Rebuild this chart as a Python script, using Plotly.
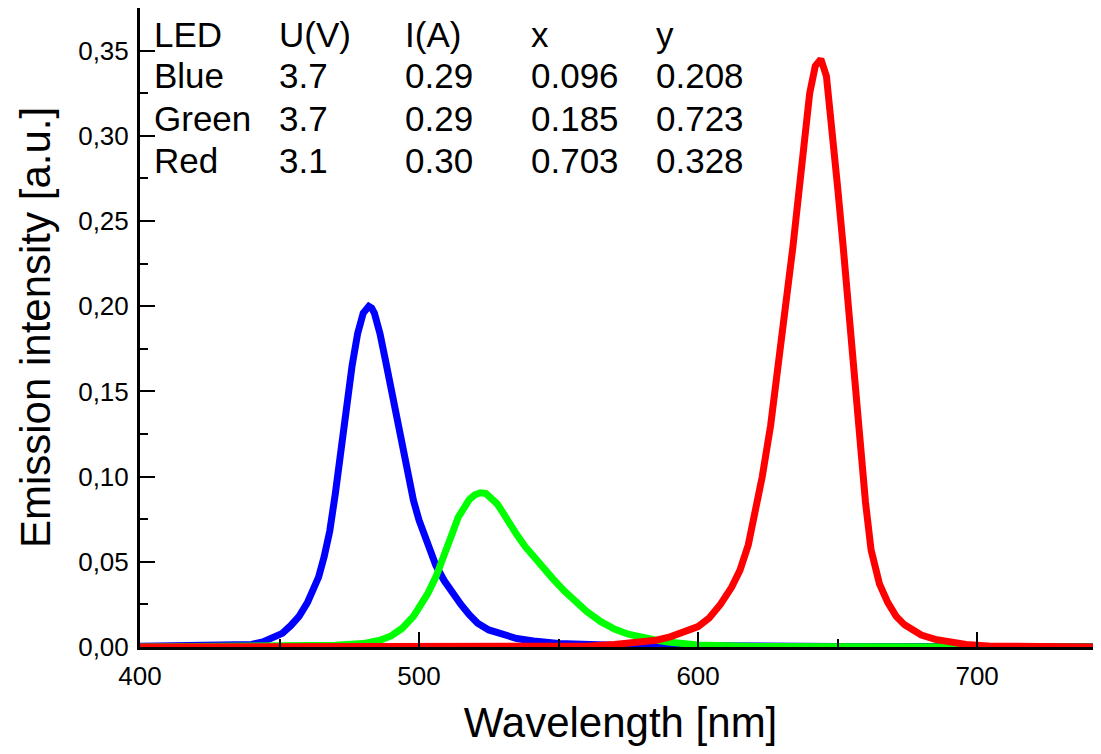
import plotly.graph_objects as go

# Blue LED spectrum
blue_wl = [400, 420, 435, 440, 444, 448, 451, 454, 457, 460, 462, 464, 466, 468, 470, 472, 474, 476, 478,
           480, 482, 483, 484, 486, 488, 490, 492, 494, 496, 498, 500, 503, 506, 509, 512, 515, 518, 521,
           525, 530, 535, 541, 550, 570, 600, 650, 700, 745]
blue_int = [0.0005, 0.0005, 0.001, 0.0015, 0.003, 0.0055, 0.008, 0.0125, 0.018, 0.026, 0.0325, 0.041,
            0.053, 0.068, 0.090, 0.116, 0.142, 0.165, 0.184, 0.196, 0.200, 0.199, 0.196, 0.184, 0.168,
            0.152, 0.136, 0.117, 0.099, 0.086, 0.0744, 0.060, 0.048, 0.039, 0.0316, 0.025, 0.019, 0.014,
            0.010, 0.007, 0.005, 0.0035, 0.002, 0.001, 0.0005, 0.0003, 0.0003, 0.0003]

# Green LED spectrum
green_wl = [400, 440, 460, 470, 480, 486, 490, 494, 498, 501, 503, 506, 508, 510, 512, 514, 516, 518, 520,
            522, 524, 526, 528, 530, 532, 535, 538, 541, 544, 548, 552, 556, 560, 565, 570, 575, 580, 585,
            590, 600, 620, 650, 700, 745]
green_int = [0.0, 0.0, 0.0003, 0.001, 0.002, 0.004, 0.0065, 0.011, 0.018, 0.025, 0.031, 0.041, 0.049, 0.057,
             0.067, 0.076, 0.082, 0.0865, 0.0893, 0.0905, 0.090, 0.0875, 0.084, 0.079, 0.0735, 0.066, 0.059,
             0.053, 0.047, 0.040, 0.033, 0.027, 0.021, 0.015, 0.0105, 0.0075, 0.0055, 0.004, 0.0028, 0.0012,
             0.0003, 0.0, 0.0, 0.0]

# Red LED spectrum
red_wl = [400, 500, 560, 570, 580, 585, 590, 595, 600, 604, 608, 612, 615, 618, 620, 623, 626, 628, 630,
          632, 634, 636, 638, 640, 642, 644, 646, 648, 650, 652, 654, 656, 658, 660, 662, 665, 668, 671,
          674, 677, 680, 685, 690, 696, 705, 745]
red_int = [0.0, 0.0, 0.0005, 0.0015, 0.003, 0.004, 0.006, 0.0085, 0.012, 0.017, 0.025, 0.035, 0.045, 0.060,
           0.075, 0.100, 0.130, 0.155, 0.180, 0.205, 0.235, 0.265, 0.295, 0.325, 0.341, 0.345, 0.335, 0.305,
           0.270, 0.235, 0.195, 0.155, 0.118, 0.085, 0.057, 0.037, 0.026, 0.018, 0.013, 0.0095, 0.007,
           0.0045, 0.003, 0.0015, 0.0005, 0.0]

# Table of LED parameters
table_header = ["LED", "U(V)", "I(A)", "x", "y"]
table_rows = [
    ["Blue", "3.7", "0.29", "0.096", "0.208"],
    ["Green", "3.7", "0.29", "0.185", "0.723"],
    ["Red", "3.1", "0.30", "0.703", "0.328"],
]

FONT = "Liberation Sans"

fig = go.Figure()
fig.add_trace(go.Scatter(x=blue_wl, y=blue_int, mode="lines", line=dict(color="#0000FF", width=7), name="Blue"))
fig.add_trace(go.Scatter(x=green_wl, y=green_int, mode="lines", line=dict(color="#00FF00", width=7), name="Green"))
fig.add_trace(go.Scatter(x=red_wl, y=red_int, mode="lines", line=dict(color="#FF0000", width=7), name="Red"))

# table as text annotations (page pixel positions, body has 8px margin)
col_px = [152, 277, 403, 529, 654]
row_px = [34, 76, 118, 160]
L, T, B, W = 140, 8, 647, 961
rows = [table_header] + table_rows
for ri, row in enumerate(rows):
    for ci, txt in enumerate(row):
        fig.add_annotation(
            x=(col_px[ci] - L) / W, y=(B - row_px[ri]) / (B - T),
            xref="paper", yref="paper", text=txt, showarrow=False,
            xanchor="left", yanchor="middle",
            font=dict(family=FONT, size=35, color="black"),
        )

fig.update_layout(
    width=1093, height=738,
    margin=dict(l=132, r=0, t=0, b=99),
    paper_bgcolor="white", plot_bgcolor="white",
    showlegend=False,
    separators=",.",
    font=dict(family=FONT, color="black"),
)
fig.update_xaxes(
    range=[400, 744.4], dtick=100, tick0=400, automargin=False,
    showgrid=False, zeroline=False,
    showline=True, linecolor="black", linewidth=3, mirror=True,
    ticks="inside", ticklen=15, tickwidth=2, tickcolor="black",
    minor=dict(ticks="inside", ticklen=8, dtick=50, tickwidth=2, tickcolor="black"),
    tickfont=dict(family=FONT, size=26, color="black"),
    ticklabelstandoff=4,
    title=dict(text="Wavelength [nm]", font=dict(family=FONT, size=42, color="black"), standoff=50),
)
fig.update_yaxes(
    range=[0, 0.375], dtick=0.05, tick0=0, tickformat=".2f", automargin=False,
    showgrid=False, zeroline=False,
    showline=True, linecolor="black", linewidth=3, mirror=False,
    ticks="inside", ticklen=15, tickwidth=2, tickcolor="black",
    minor=dict(ticks="inside", ticklen=8, dtick=0.025, tickwidth=2, tickcolor="black"),
    tickfont=dict(family=FONT, size=26, color="black"),
    ticklabelstandoff=3,
    title=dict(text="Emission intensity [a.u.]", font=dict(family=FONT, size=42, color="black"), standoff=15),
)

fig.write_html("out.html")
